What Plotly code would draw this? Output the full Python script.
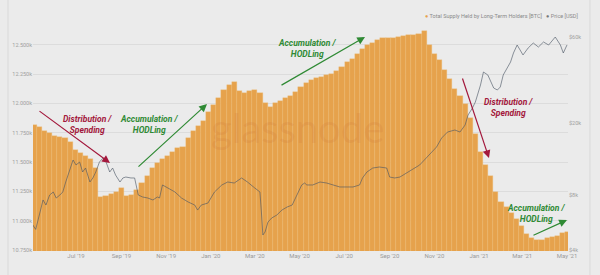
import pandas as pd
import plotly.graph_objects as go

# ---------------- data ----------------
supply_start = "2019-05-05"   # weekly bars
supply_btc = [
    11816, 11799, 11765, 11744, 11723, 11714, 11706, 11671, 11603, 11578,
    11552, 11526, 11450, 11202, 11211, 11228, 11245, 11279, 11211, 11219,
    11262, 11322, 11381, 11450, 11492, 11526, 11552, 11586, 11616, 11629,
    11706, 11765, 11808, 11851, 11927, 11987, 12047, 12115, 12158, 12183,
    12107, 12090, 12107, 12115, 12090, 12004, 11970, 12004, 12021, 12047,
    12064, 12098, 12141, 12175, 12200, 12217, 12226, 12239, 12252, 12277,
    12311, 12350, 12380, 12422, 12465, 12499, 12520, 12542, 12559, 12559,
    12559, 12567, 12576, 12584, 12584, 12597, 12619, 12499, 12422, 12371,
    12286, 12209, 12124, 12064, 11996, 11876, 11740, 11586, 11475, 11381,
    11245, 11160, 11117, 11066, 11014, 10955, 10887, 10852, 10835, 10835,
    10848, 10857, 10869, 10895, 10904,
]

price_dates = [
    "2019-05-03", "2019-05-07", "2019-05-13", "2019-05-17", "2019-05-21", "2019-05-26",
    "2019-05-31", "2019-06-04", "2019-06-09", "2019-06-13", "2019-06-17", "2019-06-23",
    "2019-06-27", "2019-07-01", "2019-07-06", "2019-07-10", "2019-07-14", "2019-07-20",
    "2019-07-24", "2019-07-28", "2019-08-02", "2019-08-07", "2019-08-11", "2019-08-16",
    "2019-08-20", "2019-08-24", "2019-08-30", "2019-09-03", "2019-09-07", "2019-09-14",
    "2019-09-19", "2019-09-24", "2019-09-30", "2019-10-07", "2019-10-14", "2019-10-20",
    "2019-10-23", "2019-10-27", "2019-11-03", "2019-11-13", "2019-11-22", "2019-12-01",
    "2019-12-10", "2019-12-14", "2019-12-19", "2019-12-28", "2020-01-06", "2020-01-16",
    "2020-01-24", "2020-02-02", "2020-02-12", "2020-02-20", "2020-03-01", "2020-03-08",
    "2020-03-10", "2020-03-12", "2020-03-15", "2020-03-19", "2020-03-24", "2020-03-31",
    "2020-04-07", "2020-04-14", "2020-04-21", "2020-04-27", "2020-05-04", "2020-05-08",
    "2020-05-11", "2020-05-19", "2020-05-29", "2020-06-07", "2020-06-16", "2020-06-25",
    "2020-07-05", "2020-07-13", "2020-07-22", "2020-07-26", "2020-08-01", "2020-08-09",
    "2020-08-18", "2020-08-28", "2020-09-01", "2020-09-08", "2020-09-15", "2020-09-24",
    "2020-10-02", "2020-10-12", "2020-10-21", "2020-10-28", "2020-11-04", "2020-11-11",
    "2020-11-19", "2020-11-29", "2020-12-06", "2020-12-13", "2020-12-17", "2020-12-23",
    "2020-12-27", "2021-01-03", "2021-01-07", "2021-01-13", "2021-01-17", "2021-01-21",
    "2021-01-26", "2021-01-30", "2021-02-03", "2021-02-09", "2021-02-13", "2021-02-17",
    "2021-02-22", "2021-02-26", "2021-03-02", "2021-03-09", "2021-03-16", "2021-03-23",
    "2021-03-30", "2021-04-06", "2021-04-15", "2021-04-22", "2021-04-26", "2021-05-01",
]
price_usd = [
    5500, 5200, 6490, 7560, 7090, 8050,
    8370, 7750, 8050, 8370, 9500, 11350,
    12570, 11800, 12250, 10790, 11350, 9500,
    10000, 10790, 12250, 12900, 12250, 10790,
    11350, 10380, 9500, 10000, 10120, 10000,
    10000, 8050, 7850, 7750, 7560, 7850,
    7750, 9150, 8800, 8370, 7750, 7370,
    7090, 6650, 7090, 7270, 8370, 9150,
    9500, 9380, 10000, 9500, 8800, 8370,
    6490, 4840, 5030, 5710, 6010, 6240,
    6650, 6910, 7090, 8050, 9150, 9380,
    9150, 9150, 9500, 9380, 9150, 8920,
    8920, 8920, 9150, 10000, 10790, 11350,
    11500, 11350, 10120, 10000, 10120, 10660,
    11070, 11800, 12900, 13910, 14830, 16630,
    17940, 18410, 17940, 19620, 22280, 24350,
    26290, 32630, 38500, 37060, 33910, 31410,
    30620, 31810, 37060, 40510, 43730, 49030,
    54280, 50950, 47810, 52250, 55680, 52910,
    56400, 54280, 60090, 54280, 49030, 54280,
]

left_ticks = [10750, 11000, 11250, 11500, 11750, 12000, 12250, 12500]
left_labels = ["10.750k", "11.000k", "11.250k", "11.500k", "11.750k", "12.000k", "12.250k", "12.500k"]
right_ticks = [4000, 8000, 20000, 60000]
right_labels = ["$4k", "$8k", "$20k", "$60k"]
x_ticks = ["2019-07-01", "2019-09-01", "2019-11-01", "2020-01-01", "2020-03-01", "2020-05-01",
           "2020-07-01", "2020-09-01", "2020-11-01", "2021-01-01", "2021-03-01", "2021-05-01"]
x_labels = ["Jul '19", "Sep '19", "Nov '19", "Jan '20", "Mar '20", "May '20",
            "Jul '20", "Sep '20", "Nov '20", "Jan '21", "Mar '21", "May '21"]

# ---------------- figure ----------------
supply_dates = pd.date_range(supply_start, periods=len(supply_btc), freq="7D")

BG = "#ebebeb"
ORANGE = "#e6a24c"
FONT = "Roboto"

fig = go.Figure()
fig.add_trace(go.Bar(
    x=supply_dates, y=supply_btc, name="Total Supply Held by Long-Term Holders [BTC]",
    marker=dict(color=ORANGE, line=dict(color="rgba(240,190,120,0.8)", width=0.4)),
    yaxis="y",
))
fig.add_trace(go.Scatter(
    x=pd.to_datetime(price_dates), y=price_usd, name="Price [USD]", mode="lines",
    line=dict(color="rgba(75,85,100,0.78)", width=0.8),
    yaxis="y2",
))

red = "#a3183c"
green = "#2f8a34"
ann_font = dict(family=FONT, size=8.5)

def label(text, x, y, color):
    return dict(text=f"<b><i>{text}</i></b>", x=x, y=y, xref="paper", yref="paper",
                xanchor="center", yanchor="middle",
                showarrow=False, font=dict(color=color, **ann_font), align="center")

def arrow(x, y, ax, ay, color):
    return dict(text="", x=x, y=y, xref="paper", yref="paper", ax=ax, ay=ay,
                showarrow=True, arrowhead=2, arrowsize=1.3, arrowwidth=1.2, arrowcolor=color)

annotations = [
    label("Distribution /<br>Spending", 0.1028, 0.5695, red),
    label("Accumulation /<br>HODLing", 0.2168, 0.5673, green),
    label("Accumulation /<br>HODLing", 0.5121, 0.9103, green),
    label("Distribution /<br>Spending", 0.8879, 0.6435, red),
    label("Accumulation /<br>HODLing", 0.9402, 0.1704, green),
    arrow(0.1439, 0.3946, -72, -53, red),
    arrow(0.3252, 0.6592, -70, 64, green),
    arrow(0.6206, 0.9596, -85, 49, green),
    arrow(0.8523, 0.4170, -27, -81, red),
    arrow(0.9981, 0.1390, -35, 16, green),
    dict(text="glassnode", x=0.4935, y=0.5516, xref="paper", yref="paper", showarrow=False,
         xanchor="center", yanchor="middle",
         font=dict(family="Lato", size=40, color="rgba(190,95,45,0.13)")),
    dict(text=f"<span style='color:{ORANGE}'>●</span> Total Supply Held by Long-Term Holders [BTC]"
              f"&nbsp;&nbsp;&nbsp;<span style='color:#777'>●</span> Price [USD]",
         x=1.022, y=1.055, xref="paper", yref="paper", xanchor="right", yanchor="middle",
         showarrow=False, font=dict(family=FONT, size=5.5, color="#8a8a8a")),
]

shapes = [
    dict(type="line", xref="paper", yref="paper", x0=-0.0467, x1=-0.0467, y0=-0.11, y1=1.13,
         line=dict(color="#d9d9d9", width=1)),
    dict(type="line", xref="paper", yref="paper", x0=1.041, x1=1.041, y0=-0.11, y1=1.13,
         line=dict(color="#d9d9d9", width=1)),
]

fig.update_layout(
    width=600, height=275,
    margin=dict(l=33, r=32, t=28, b=24),
    paper_bgcolor=BG, plot_bgcolor=BG,
    font=dict(family=FONT, size=6, color="#9a9a9a"),
    showlegend=False,
    bargap=0,
    annotations=annotations,
    shapes=shapes,
    xaxis=dict(
        type="date", range=["2019-05-03 07:40", "2021-05-02 09:36"],
        tickvals=x_ticks, ticktext=x_labels, showgrid=False, zeroline=False,
        showline=False, ticks="", tickfont=dict(size=6, color="#9a9a9a"),
    ),
    yaxis=dict(
        range=[10741, 12644], tickvals=left_ticks, ticktext=left_labels,
        showgrid=True, gridcolor="#dcdcdc", gridwidth=0.8, zeroline=False, showline=False,
        ticks="", tickfont=dict(size=5.5, color="#a0a0a0"),
    ),
    yaxis2=dict(
        type="log", range=[3.5966, 4.8286], overlaying="y", side="right",
        tickvals=right_ticks, ticktext=right_labels, showgrid=False, zeroline=False,
        showline=False, ticks="", tickfont=dict(size=5.5, color="#a0a0a0"),
    ),
)

fig.write_html("out.html")
